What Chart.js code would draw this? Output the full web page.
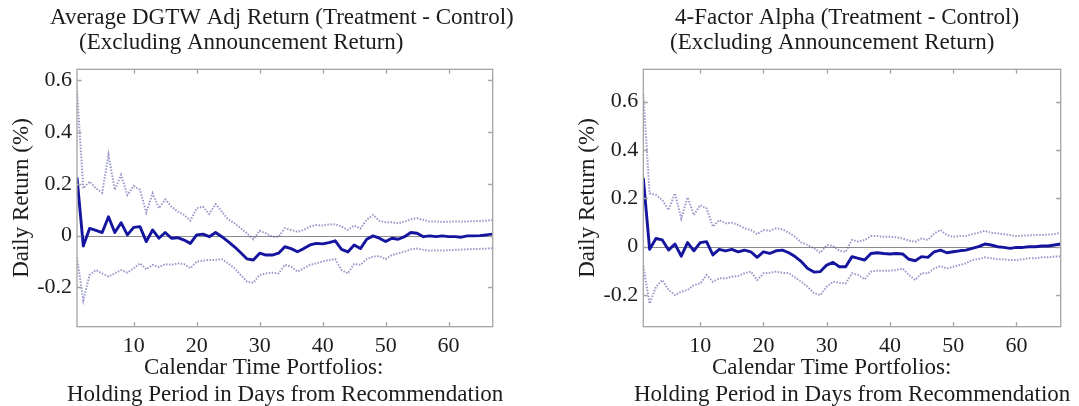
<!DOCTYPE html>
<html><head><meta charset="utf-8">
<script src="https://cdn.jsdelivr.net/npm/chart.js@4.4.1/dist/chart.umd.min.js"></script>
<style>
html,body{margin:0;padding:0;background:#fff;width:1079px;height:406px;overflow:hidden}
canvas{position:absolute;top:0}
#c1{left:0}
#c2{left:540px}
</style></head><body>
<canvas id="c1" width="540" height="406"></canvas>
<canvas id="c2" width="539" height="406"></canvas>
<script>
const days = [1,2,3,4,5,6,7,8,9,10,11,12,13,14,15,16,17,18,19,20,21,22,23,24,25,26,27,28,29,30,31,32,33,34,35,36,37,38,39,40,41,42,43,44,45,46,47,48,49,50,51,52,53,54,55,56,57,58,59,60,61,62,63,64,65,66,67];

const dgtwMean = [0.225,-0.04,0.028,0.02,0.012,0.073,0.012,0.05,0.003,0.032,
  0.035,-0.023,0.022,-0.01,0.012,-0.01,-0.008,-0.017,-0.03,0.003,
  0.006,-0.004,0.012,-0.004,-0.023,-0.043,-0.066,-0.09,-0.094,-0.068,
  -0.075,-0.075,-0.068,-0.043,-0.05,-0.062,-0.05,-0.036,-0.03,-0.032,
  -0.027,-0.02,-0.053,-0.063,-0.036,-0.05,-0.014,-0.001,-0.01,-0.023,
  -0.01,-0.014,-0.004,0.012,0.009,-0.004,-0.001,-0.004,-0.001,-0.004,
  -0.004,-0.006,-0.001,-0.001,0,0.003,0.006];
const dgtwUpper = [0.56,0.183,0.209,0.183,0.166,0.312,0.177,0.235,0.157,0.192,
  0.177,0.089,0.164,0.106,0.14,0.112,0.093,0.08,0.058,0.106,
  0.112,0.084,0.122,0.093,0.063,0.048,0.028,0.009,-0.014,0.019,
  0.009,-0.004,-0.004,0.028,0.022,0.015,0.022,0.035,0.041,0.039,
  0.043,0.044,0.035,0.022,0.039,0.028,0.061,0.08,0.057,0.052,
  0.052,0.048,0.054,0.063,0.067,0.061,0.054,0.055,0.053,0.054,
  0.055,0.054,0.055,0.056,0.057,0.058,0.06];
const dgtwLower = [-0.085,-0.25,-0.152,-0.133,-0.146,-0.158,-0.146,-0.133,-0.143,-0.126,
  -0.107,-0.13,-0.113,-0.122,-0.11,-0.113,-0.107,-0.11,-0.126,-0.1,
  -0.097,-0.094,-0.094,-0.091,-0.107,-0.126,-0.152,-0.178,-0.182,-0.152,
  -0.146,-0.143,-0.146,-0.113,-0.12,-0.139,-0.126,-0.113,-0.107,-0.1,
  -0.094,-0.091,-0.133,-0.146,-0.11,-0.113,-0.091,-0.081,-0.079,-0.091,
  -0.075,-0.068,-0.062,-0.053,-0.05,-0.055,-0.058,-0.057,-0.058,-0.056,
  -0.055,-0.054,-0.053,-0.052,-0.051,-0.05,-0.048];

const alphaMean = [0.285,-0.011,0.034,0.028,-0.014,0.011,-0.039,0.017,-0.017,0.017,
  0.021,-0.034,-0.011,-0.017,-0.011,-0.021,-0.014,-0.021,-0.044,-0.021,
  -0.028,-0.017,-0.014,-0.025,-0.041,-0.062,-0.09,-0.105,-0.103,-0.076,
  -0.065,-0.083,-0.083,-0.041,-0.048,-0.055,-0.028,-0.025,-0.028,-0.03,
  -0.028,-0.03,-0.052,-0.058,-0.041,-0.044,-0.021,-0.014,-0.025,-0.021,
  -0.017,-0.014,-0.007,0,0.011,0.007,0,-0.003,-0.007,-0.003,
  -0.003,0,0,0.003,0.003,0.007,0.011];
const alphaUpper = [0.63,0.221,0.214,0.193,0.152,0.221,0.117,0.204,0.131,0.172,
  0.159,0.083,0.11,0.097,0.099,0.09,0.076,0.069,0.052,0.069,
  0.066,0.076,0.072,0.058,0.041,0.017,0.007,-0.007,-0.025,0.007,
  0.003,-0.017,-0.021,0.028,0.021,0.028,0.044,0.044,0.041,0.041,
  0.039,0.034,0.025,0.021,0.034,0.028,0.055,0.069,0.048,0.041,
  0.044,0.044,0.052,0.058,0.066,0.058,0.055,0.052,0.048,0.044,
  0.046,0.047,0.048,0.048,0.05,0.052,0.058];
const alphaLower = [-0.08,-0.235,-0.166,-0.138,-0.179,-0.2,-0.186,-0.179,-0.159,-0.152,
  -0.117,-0.145,-0.131,-0.131,-0.124,-0.121,-0.11,-0.103,-0.138,-0.11,
  -0.108,-0.103,-0.108,-0.11,-0.127,-0.145,-0.166,-0.193,-0.2,-0.166,
  -0.145,-0.149,-0.152,-0.11,-0.117,-0.135,-0.103,-0.099,-0.099,-0.099,
  -0.097,-0.09,-0.117,-0.138,-0.11,-0.11,-0.09,-0.08,-0.09,-0.083,
  -0.076,-0.069,-0.055,-0.051,-0.044,-0.048,-0.052,-0.052,-0.055,-0.055,
  -0.052,-0.048,-0.048,-0.044,-0.044,-0.041,-0.039];

const xTickValues = [10,20,30,40,50,60];
const yTickValues = [-0.2,0,0.2,0.4,0.6];

const leftTitle = ['Average DGTW Adj Return (Treatment - Control)', '(Excluding Announcement Return)'];
const rightTitle = ['4-Factor Alpha (Treatment - Control)', '(Excluding Announcement Return)'];
const yTitle = 'Daily Return (%)';
const xTitle = ['Calendar Time Portfolios:', 'Holding Period in Days from Recommendation'];

const FONT = '"Liberation Serif", "Times New Roman", serif';

function toPoints(vals){ return vals.map((v,i)=>({x:days[i], y:v})); }

function framePlugin(){
  return {
    id:'frame',
    beforeDatasetsDraw(chart){
      const {ctx, chartArea:a, scales:{y}} = chart;
      const y0 = Math.round(y.getPixelForValue(0)) + 0.5;
      ctx.save();
      ctx.strokeStyle = '#8a8a8a'; ctx.lineWidth = 1;
      ctx.beginPath(); ctx.moveTo(a.left, y0); ctx.lineTo(a.right, y0); ctx.stroke();
      ctx.restore();
    },
    afterDatasetsDraw(chart){
      const {ctx, chartArea:a, scales:{x, y}} = chart;
      ctx.save();
      ctx.strokeStyle = '#a4a4a4'; ctx.lineWidth = 1.3;
      ctx.strokeRect(a.left, a.top, a.right - a.left, a.bottom - a.top);
      const L = 4.5;
      ctx.beginPath();
      xTickValues.forEach(v => {
        const px = Math.round(x.getPixelForValue(v)) + 0.5;
        ctx.moveTo(px, a.bottom); ctx.lineTo(px, a.bottom - L);
        ctx.moveTo(px, a.top); ctx.lineTo(px, a.top + L);
      });
      yTickValues.forEach(v => {
        const py = Math.round(y.getPixelForValue(v)) + 0.5;
        ctx.moveTo(a.left, py); ctx.lineTo(a.left + L, py);
        ctx.moveTo(a.right, py); ctx.lineTo(a.right - L, py);
      });
      ctx.stroke();
      ctx.restore();
    }
  };
}

function textPlugin(items){
  return {
    id:'panelText',
    afterDraw(chart){
      const ctx = chart.ctx;
      items.forEach(it => {
        ctx.save();
        ctx.font = it.size + 'px ' + FONT;
        ctx.fillStyle = '#1c1c1c';
        ctx.textAlign = it.align || 'left';
        ctx.textBaseline = it.baseline || 'alphabetic';
        ctx.translate(it.x, it.y);
        if (it.rot) ctx.rotate(it.rot);
        ctx.fillText(it.text, 0, 0);
        ctx.restore();
      });
    }
  };
}

function makeChart(id, mean, upper, lower, yMin, yMax, pad, items){
  const dotted = {borderColor:'rgba(85,85,165,0.6)', borderWidth:2, borderDash:[1.5,1.5], pointRadius:0, fill:false, tension:0};
  return new Chart(document.getElementById(id), {
    type:'line',
    data:{ datasets:[
      Object.assign({label:'Upper', data:toPoints(upper)}, dotted),
      Object.assign({label:'Lower', data:toPoints(lower)}, dotted),
      {label:'Mean', data:toPoints(mean), borderColor:'#14149e', borderWidth:2.9, pointRadius:0, fill:false, tension:0, borderJoinStyle:'round'}
    ]},
    options:{
      responsive:false, animation:false, devicePixelRatio:1,
      layout:{padding:pad},
      plugins:{legend:{display:false}, tooltip:{enabled:false}, title:{display:false}},
      scales:{
        x:{type:'linear', min:1, max:67,
          grid:{display:false, drawTicks:false}, border:{display:false},
          ticks:{font:{family:FONT, size:22}, color:'#1c1c1c', padding:6, maxRotation:0, autoSkip:false,
                 callback:v => String(v)},
          afterBuildTicks:s => { s.ticks = xTickValues.map(v => ({value:v})); },
          afterFit:s => { s.height = 79.3; }
        },
        y:{type:'linear', min:yMin, max:yMax,
          grid:{display:false, drawTicks:false}, border:{display:false},
          ticks:{font:{family:FONT, size:22}, color:'#1c1c1c', padding:5,
                 callback:v => String(Math.round(v*10)/10)},
          afterBuildTicks:s => { s.ticks = yTickValues.map(v => ({value:v})); },
          afterFit:s => { s.width = 77; }
        }
      }
    },
    plugins:[framePlugin(), textPlugin(items)]
  });
}

makeChart('c1', dgtwMean, dgtwUpper, dgtwLower, -0.352, 0.643,
  {left:0, top:69.3, right:47.3, bottom:0},
  [
    {text:leftTitle[0], x:50, y:24, size:23},
    {text:leftTitle[1], x:79, y:49, size:23},
    {text:yTitle, x:22, y:198, size:23, align:'center', baseline:'middle', rot:-Math.PI/2},
    {text:xTitle[0], x:144, y:374, size:23},
    {text:xTitle[1], x:67, y:401, size:23}
  ]);

makeChart('c2', alphaMean, alphaUpper, alphaLower, -0.331, 0.734,
  {left:26.3, top:69.3, right:18.3, bottom:0},
  [
    {text:rightTitle[0], x:135, y:24, size:23},
    {text:rightTitle[1], x:130, y:49, size:23},
    {text:yTitle, x:48, y:198, size:23, align:'center', baseline:'middle', rot:-Math.PI/2},
    {text:xTitle[0], x:172, y:374, size:23},
    {text:xTitle[1], x:94, y:401, size:23}
  ]);
</script>
</body></html>
